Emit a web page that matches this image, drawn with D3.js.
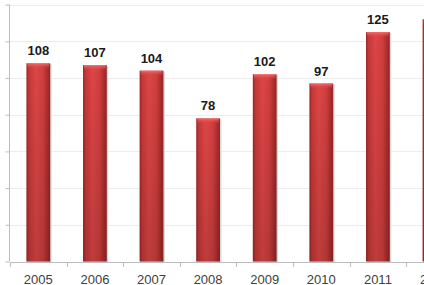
<!DOCTYPE html>
<html><head><meta charset="utf-8">
<script src="https://cdn.jsdelivr.net/npm/d3@7/dist/d3.min.js"></script>
<style>html,body{margin:0;padding:0;background:#fff;overflow:hidden}svg{display:block}</style>
</head><body>
<script>
const years = ["2005","2006","2007","2008","2009","2010","2011","2012"];
const values = [108,107,104,78,102,97,125,132];
const yTicks = [0,20,40,60,80,100,120,140];

const W = 424, H = 285;
const svg = d3.select("body").append("svg").attr("width", W).attr("height", H);
const defs = svg.append("defs");
const gh = defs.append("linearGradient").attr("id","gh").attr("x1","0").attr("x2","1").attr("y1","0").attr("y2","0");
[["0%","#9c2828"],["12%","#c83838"],["40%","#dc4646"],["70%","#d03e3e"],["100%","#962424"]].forEach(s=>gh.append("stop").attr("offset",s[0]).attr("stop-color",s[1]));
const gv = defs.append("linearGradient").attr("id","gv").attr("x1","0").attr("x2","0").attr("y1","0").attr("y2","1");
gv.append("stop").attr("offset","0%").attr("stop-color","#000").attr("stop-opacity",0);
gv.append("stop").attr("offset","100%").attr("stop-color","#000").attr("stop-opacity",0.14);
const gc = defs.append("linearGradient").attr("id","gc").attr("x1","0").attr("x2","0").attr("y1","0").attr("y2","1");
gc.append("stop").attr("offset","0%").attr("stop-color","#f27070");
gc.append("stop").attr("offset","100%").attr("stop-color","#dc4646").attr("stop-opacity",0);

const x = d3.scaleBand().domain(years).range([10, 10 + 8*56.6]).paddingInner(0.58).paddingOuter(0.29);
const y = d3.scaleLinear().domain([0,140]).range([261.5, 4.6]);

// gridlines
svg.append("g").selectAll("line").data(yTicks.slice(1)).join("line")
  .attr("x1", 10).attr("x2", W).attr("y1", d=>Math.round(y(d))+0.5).attr("y2", d=>Math.round(y(d))+0.5)
  .attr("stroke","#ececec").attr("stroke-width",1);

// left axis
const ya = svg.append("g").attr("transform","translate(9.5,0)")
  .call(d3.axisLeft(y).tickValues(yTicks).tickSize(4).tickFormat(""));
ya.selectAll("path,line").attr("stroke","#bdbdbd");
ya.select(".domain").attr("d", `M0,${y(140)}V${y(0)}`);

// bars
const bars = svg.append("g").selectAll("g").data(years).join("g");
bars.append("rect").attr("x", d=>x(d)+1.5).attr("y", (d,i)=>y(values[i])+1).attr("width", x.bandwidth()).attr("height",(d,i)=>y(0)-y(values[i])).attr("fill","#d8d8d8");
bars.append("rect").attr("x", d=>x(d)).attr("y", (d,i)=>y(values[i])).attr("width", x.bandwidth()).attr("height",(d,i)=>y(0)-y(values[i])).attr("fill","url(#gh)");
bars.append("rect").attr("x", d=>x(d)).attr("y", (d,i)=>y(values[i])).attr("width", x.bandwidth()).attr("height",(d,i)=>y(0)-y(values[i])).attr("fill","url(#gv)");
bars.append("rect").attr("x", d=>x(d)+1).attr("y", (d,i)=>y(values[i])).attr("width", x.bandwidth()-2).attr("height",5).attr("fill","url(#gc)");

// baseline
svg.append("line").attr("x1",10).attr("x2",W).attr("y1",Math.round(y(0))+0.5).attr("y2",Math.round(y(0))+0.5).attr("stroke","#bdbdbd");
// bottom ticks at band boundaries
const bounds = d3.range(years.length+1).map(i=>x.range()[0] + i*x.step());
svg.append("g").selectAll("line").data(bounds).join("line")
  .attr("x1",d=>Math.round(d)+0.5).attr("x2",d=>Math.round(d)+0.5)
  .attr("y1",Math.round(y(0))).attr("y2",Math.round(y(0))+5).attr("stroke","#bdbdbd");

// value labels
svg.append("g").selectAll("text").data(years).join("text")
  .attr("x", d=>x(d)+x.bandwidth()/2).attr("y",(d,i)=>y(values[i])-8)
  .attr("text-anchor","middle").attr("font-family","Liberation Sans, Arial, sans-serif")
  .attr("font-weight","bold").attr("font-size",13).attr("fill","#1a1a1a")
  .text((d,i)=>values[i]);

// category labels
svg.append("g").selectAll("text").data(years).join("text")
  .attr("x", d=>x(d)+x.bandwidth()/2).attr("y",284)
  .attr("text-anchor","middle").attr("font-family","Liberation Sans, Arial, sans-serif")
  .attr("font-size",13).attr("fill","#404040").text(d=>d);
</script>
</body></html>
